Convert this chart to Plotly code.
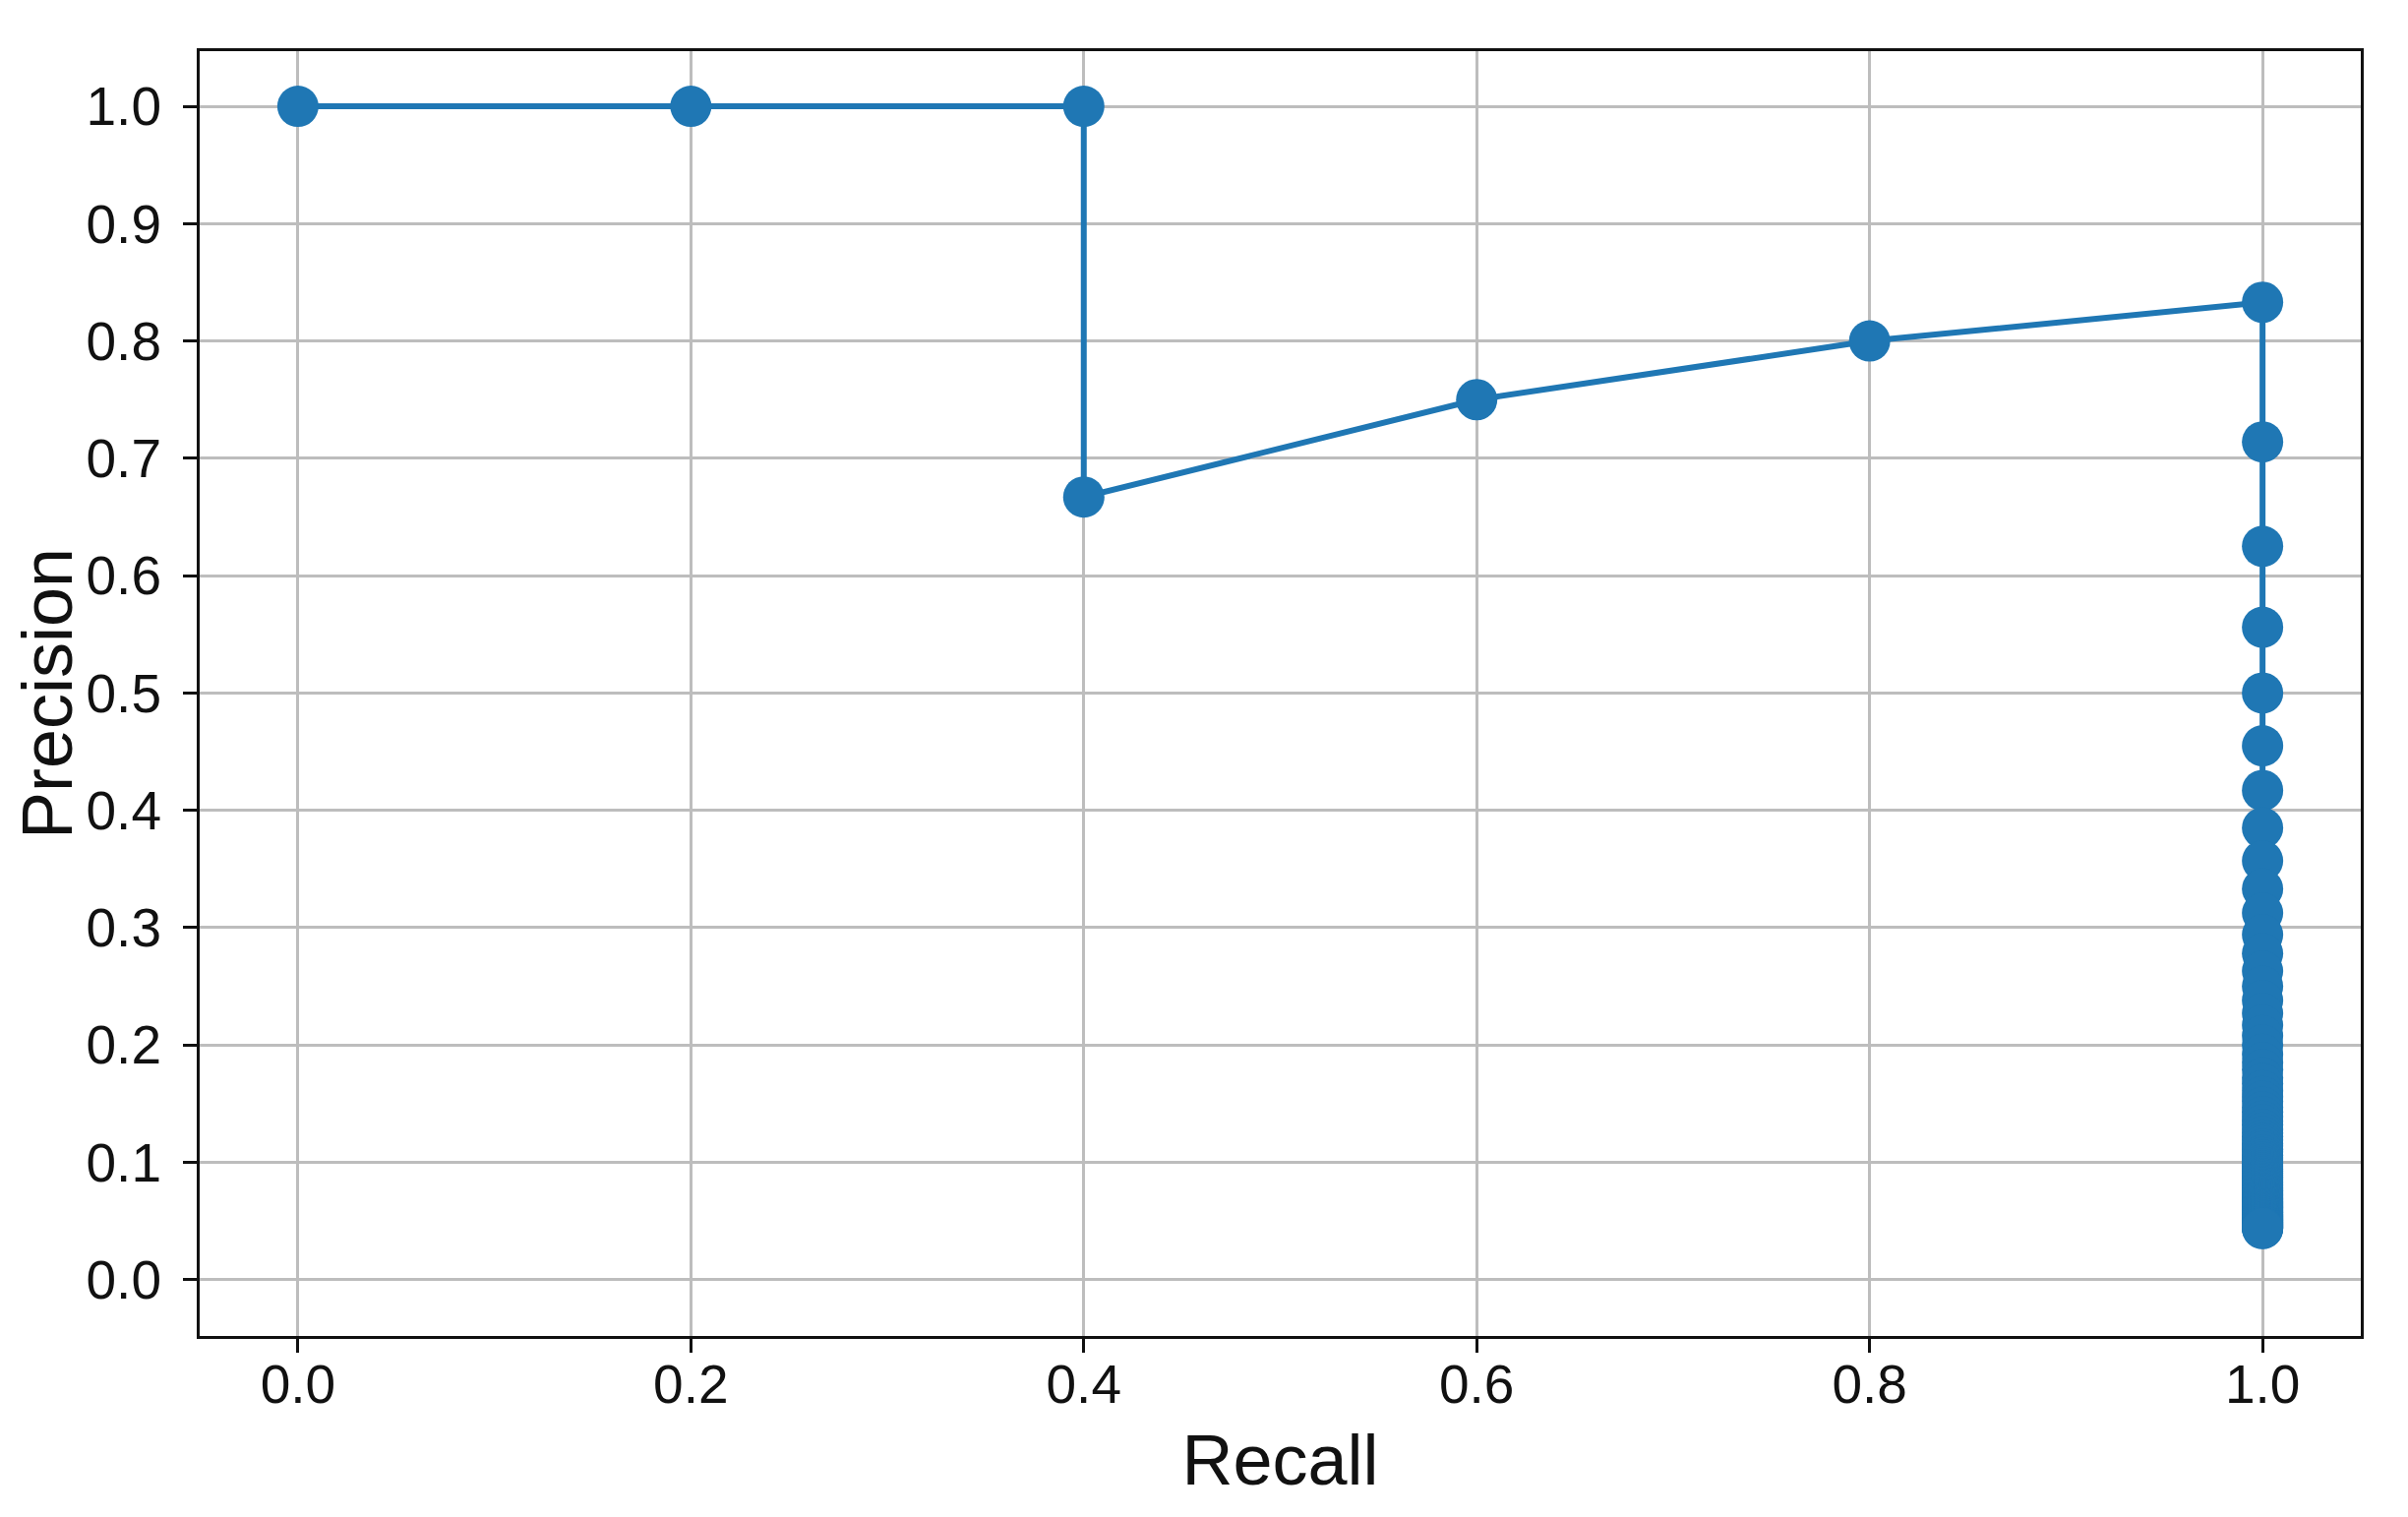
import plotly.graph_objects as go

# Precision-recall curve values
recall = [0.0, 0.2, 0.4, 0.4, 0.6, 0.8] + [1.0] * 110
precision = [1.0, 1.0, 1.0, 0.667, 0.75, 0.8,
             0.833, 0.714, 0.625, 0.556, 0.5, 0.455, 0.417, 0.385, 0.357, 0.333,
             0.3125, 0.294, 0.278, 0.263, 0.25, 0.238, 0.227, 0.217, 0.208, 0.2,
             0.192, 0.185, 0.179, 0.172, 0.167, 0.161, 0.156, 0.152, 0.147, 0.143,
             0.139, 0.135, 0.132, 0.128, 0.125, 0.122, 0.119, 0.116, 0.114, 0.111,
             0.109, 0.106, 0.104, 0.102, 0.1, 0.098, 0.0962, 0.0943, 0.0926, 0.0909,
             0.0893, 0.0877, 0.0862, 0.0847, 0.0833, 0.082, 0.0806, 0.0794, 0.0781, 0.0769,
             0.0758, 0.0746, 0.0735, 0.0725, 0.0714, 0.0704, 0.0694, 0.0685, 0.0676, 0.0667,
             0.0658, 0.0649, 0.0641, 0.0633, 0.0625, 0.0617, 0.061, 0.0602, 0.0595, 0.0588,
             0.0581, 0.0575, 0.0568, 0.0562, 0.0556, 0.0549, 0.0543, 0.0538, 0.0532, 0.0526,
             0.0521, 0.0515, 0.051, 0.0505, 0.05, 0.0495, 0.049, 0.0485, 0.0481, 0.0476,
             0.0472, 0.0467, 0.0463, 0.0459, 0.0455, 0.045, 0.0446, 0.0442, 0.0439, 0.0435]
recall = recall[:len(precision)]

x_ticks = [0.0, 0.2, 0.4, 0.6, 0.8, 1.0]
y_ticks = [0.0, 0.1, 0.2, 0.3, 0.4, 0.5, 0.6, 0.7, 0.8, 0.9, 1.0]

FONT = "Liberation Sans, Arial, sans-serif"
BLUE = "#1f77b4"

fig = go.Figure()
fig.add_trace(go.Scatter(
    x=recall, y=precision, mode="lines+markers",
    line=dict(color=BLUE, width=6),
    marker=dict(color=BLUE, size=42, line=dict(width=0)),
    showlegend=False,
))

axis_common = dict(
    showline=True, mirror=True, linecolor="#111111", linewidth=3,
    showgrid=True, gridcolor="#bdbdbd", gridwidth=3,
    ticks="outside", ticklen=14, tickwidth=3, tickcolor="#111111",
    zeroline=False,
    tickfont=dict(family=FONT, size=55, color="#111111"),
    tickformat=".1f",
)

fig.update_layout(
    width=2440, height=1534,
    paper_bgcolor="white", plot_bgcolor="white",
    margin=dict(l=195, r=48, t=44, b=184, autoexpand=False),
    font=dict(family=FONT, color="#111111"),
    xaxis=dict(axis_common, range=[-0.05, 1.05], tickvals=x_ticks,
               ticklabelstandoff=-15,
               title=dict(text="Recall", font=dict(family=FONT, size=72, color="#111111"), standoff=22),
               automargin=False),
    yaxis=dict(axis_common, range=[-0.048, 1.047], tickvals=y_ticks,
               ticklabelstandoff=11,
               title=dict(text="Precision", font=dict(family=FONT, size=72, color="#111111"), standoff=3),
               automargin=False),
)

fig.write_html("out.html")
